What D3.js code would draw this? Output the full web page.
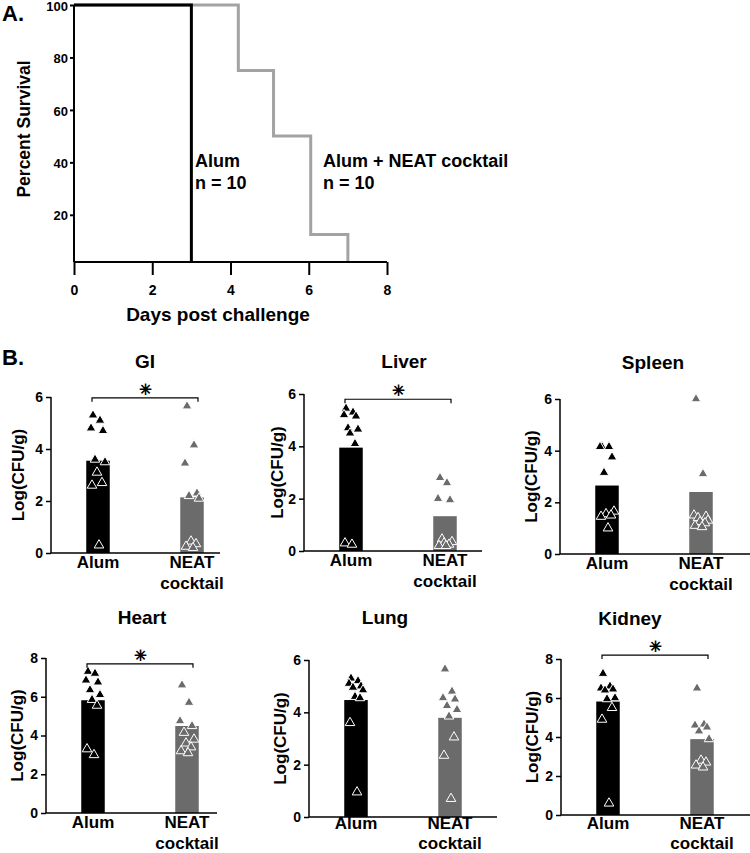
<!DOCTYPE html>
<html><head><meta charset="utf-8">
<script src="https://cdn.jsdelivr.net/npm/d3@7"></script>
<style>
body{margin:0;background:#fff;}
svg{display:block;font-family:"Liberation Sans",Arial,sans-serif;}
</style></head>
<body><svg id="c" width="750" height="853"></svg>
<script>
// ---------- Panel A data ----------
const survXTicks = [0, 2, 4, 6, 8];
const survYTicks = [20, 40, 60, 80, 100];
const alumDays = [0, 3];
const alumSurv = [100, 0];
const neatDays = [0, 4.2, 5.1, 6.05, 7];
const neatSurv = [100, 75, 50, 12.5, 0];

// ---------- Panel B data ----------
const organs = ["GI", "Liver", "Spleen", "Heart", "Lung", "Kidney"];
const groups = ["Alum", "NEAT cocktail"];
const yMax = [6, 6, 6, 8, 6, 8];
const alumBar = [3.55, 3.95, 2.65, 5.82, 4.47, 5.82];
const neatBar = [2.14, 1.33, 2.40, 4.49, 3.79, 3.89];
const significant = [true, true, false, true, false, true];
const alumPts = [
  [5.3, 5.1, 4.8, 4.7, 3.6, 3.5, 3.1, 2.7, 2.6, 0.3],
  [5.45, 5.3, 5.2, 5.15, 4.7, 4.65, 4.5, 4.1, 0.3, 0.25],
  [4.15, 4.15, 4.15, 3.75, 3.15, 1.65, 1.55, 1.5, 1.45, 1.0],
  [7.3, 7.2, 6.85, 6.75, 6.35, 6.1, 5.85, 5.55, 3.3, 3.0],
  [5.3, 5.2, 5.1, 5.0, 4.95, 4.85, 4.6, 4.55, 3.6, 0.95],
  [7.25, 6.6, 6.5, 6.45, 6.4, 6.0, 5.95, 5.5, 4.9, 0.6]
];
const neatPts = [
  [5.65, 4.15, 3.45, 2.3, 2.2, 2.1, 0.45, 0.35, 0.25, 0.2],
  [2.8, 2.6, 2.0, 1.95, 0.45, 0.35, 0.3, 0.25, 0.2, 0.2],
  [6.0, 3.1, 1.5, 1.45, 1.4, 1.3, 1.25, 1.2, 1.1, 1.05],
  [6.6, 5.7, 4.75, 4.5, 4.15, 3.8, 3.6, 3.4, 3.2, 3.1],
  [5.65, 4.8, 4.55, 4.5, 4.25, 4.1, 3.85, 3.05, 2.35, 0.7],
  [6.5, 4.65, 4.6, 4.5, 4.3, 3.9, 2.8, 2.7, 2.55, 2.45]
];

const svg = d3.select("#c");
const BOLD = "bold";

// ================= Panel A =================
const xA = d3.scaleLinear().domain([0, 8]).range([74, 387]);
const yA = d3.scaleLinear().domain([2, 100]).range([262, 5]).clamp(true);
const gA = svg.append("g");

const line = d3.line().x(d => xA(d[0])).y(d => yA(d[1])).curve(d3.curveStepAfter);
gA.append("path").datum(d3.zip(neatDays, neatSurv)).attr("d", line)
  .attr("fill", "none").attr("stroke", "#a3a3a3").attr("stroke-width", 3);
gA.append("path").datum(d3.zip(alumDays, alumSurv)).attr("d", line)
  .attr("fill", "none").attr("stroke", "#000").attr("stroke-width", 3);

const axAx = gA.append("g").attr("transform", "translate(0,262)")
  .call(d3.axisBottom(xA).tickValues(survXTicks).tickSize(13).tickPadding(10).tickFormat(d3.format("d")));
const axAy = gA.append("g").attr("transform", "translate(74,0)")
  .call(d3.axisLeft(yA).tickValues(survYTicks).tickSize(4).tickPadding(2).tickFormat(d3.format("d")));
[axAx, axAy].forEach(a => {
  a.select(".domain").attr("stroke", "#000").attr("stroke-width", 2);
  a.selectAll(".tick line").attr("stroke", "#000").attr("stroke-width", 2);
  a.selectAll("text").attr("font-size", 14).attr("font-weight", BOLD).attr("fill", "#000")
    .attr("font-family", "Liberation Sans, Arial, sans-serif");
});
axAy.selectAll("text").attr("font-size", 13).attr("dy", "0.4em");
axAy.select(".domain").attr("d", "M0,5V262");
axAx.select(".domain").attr("d", "M74,0H387");

gA.append("text").attr("x", 195).attr("y", 167).text("Alum").attr("font-size", 18).attr("font-weight", BOLD);
gA.append("text").attr("x", 195).attr("y", 189).text("n = 10").attr("font-size", 18).attr("font-weight", BOLD);
gA.append("text").attr("x", 323).attr("y", 167).text("Alum + NEAT cocktail").attr("font-size", 18).attr("font-weight", BOLD);
gA.append("text").attr("x", 323).attr("y", 189).text("n = 10").attr("font-size", 18).attr("font-weight", BOLD);
gA.append("text").attr("x", 218).attr("y", 321).attr("text-anchor", "middle")
  .text("Days post challenge").attr("font-size", 19).attr("font-weight", BOLD);
gA.append("text").attr("transform", "translate(30,129) rotate(-90)").attr("text-anchor", "middle")
  .text("Percent Survival").attr("font-size", 17.5).attr("font-weight", BOLD);
svg.append("text").attr("x", 2).attr("y", 21).text("A.").attr("font-size", 22).attr("font-weight", BOLD);
svg.append("text").attr("x", 2).attr("y", 365).text("B.").attr("font-size", 22).attr("font-weight", BOLD);

// ================= Panel B =================
// layout per panel: axis x, zero y, top y, x-axis end, title pos, bracket level
const layout = [
  {ax: 51,  y0: 553, yt: 397, xe: 220, tx: 145, ty: 368, br: 5.97, ytx: -33},
  {ax: 304, y0: 551, yt: 394, xe: 482, tx: 404, ty: 368, br: 5.8,  ytx: -27},
  {ax: 560, y0: 554, yt: 399, xe: 750, tx: 653, ty: 369, br: 0,    ytx: -29},
  {ax: 46,  y0: 813, yt: 658, xe: 217, tx: 142, ty: 624, br: 7.7,  ytx: -29},
  {ax: 309, y0: 817, yt: 660, xe: 497, tx: 385, ty: 624, br: 0,    ytx: -29},
  {ax: 561, y0: 815, yt: 659, xe: 750, tx: 630, ty: 625, br: 8.2,  ytx: -29}
];
const jit = [-5, 2, -7, 5, -3, 7, -1, 4, -6, 1];
const tri = d3.symbol().type(d3.symbolTriangle).size(40);
const barColors = ["#000000", "#6b6b6b"];

organs.forEach((org, i) => {
  const L = layout[i];
  const g = svg.append("g");
  const y = d3.scaleLinear().domain([0, yMax[i]]).range([L.y0, L.yt]);
  const x = d3.scalePoint().domain(groups).range([L.ax + 47, L.ax + 141]);
  const bw = 23.5;
  const bars = [alumBar[i], neatBar[i]];
  const pts = [alumPts[i], neatPts[i]];

  groups.forEach((grp, k) => {
    g.append("rect").attr("x", x(grp) - bw / 2).attr("width", bw)
      .attr("y", y(bars[k])).attr("height", y(0) - y(bars[k]))
      .attr("fill", barColors[k]);
  });
  groups.forEach((grp, k) => {
    g.selectAll(null).data(pts[k]).enter().append("path")
      .attr("d", tri)
      .attr("transform", (d, j) => `translate(${x(grp) + jit[j]},${y(d)})`)
      .attr("fill", barColors[k]).attr("stroke", "#fff").attr("stroke-width", 1);
  });

  const ya = g.append("g").attr("transform", `translate(${L.ax},0)`)
    .call(d3.axisLeft(y).ticks(yMax[i] / 2).tickSize(5).tickPadding(3).tickFormat(d3.format("d")));
  ya.select(".domain").attr("d", `M0,${L.yt}V${L.y0}`).attr("stroke", "#000").attr("stroke-width", 1.5);
  ya.selectAll(".tick line").attr("stroke", "#000").attr("stroke-width", 1.5);
  ya.selectAll("text").attr("font-size", 14).attr("font-weight", BOLD).attr("fill", "#000")
    .attr("font-family", "Liberation Sans, Arial, sans-serif");
  g.append("line").attr("x1", L.ax).attr("x2", L.xe).attr("y1", L.y0).attr("y2", L.y0)
    .attr("stroke", "#000").attr("stroke-width", 1.5);

  // category labels
  const yl1 = Math.min(L.y0 + 15, 828.5), yl2 = Math.min(L.y0 + 36, 848.5);
  g.append("text").attr("x", x("Alum")).attr("y", yl1).attr("text-anchor", "middle")
    .text("Alum").attr("font-size", 17).attr("font-weight", BOLD);
  const nt = g.append("text").attr("text-anchor", "middle").attr("font-size", 17).attr("font-weight", BOLD);
  nt.append("tspan").attr("x", x("NEAT cocktail")).attr("y", yl1).text("NEAT");
  nt.append("tspan").attr("x", x("NEAT cocktail")).attr("y", yl2).text("cocktail");

  g.append("text").attr("text-anchor", "middle")
    .attr("transform", `translate(${L.ax + L.ytx},${(L.y0 + L.yt) / 2}) rotate(-90)`)
    .attr("dy", "0.35em")
    .text("Log(CFU/g)").attr("font-size", 17).attr("font-weight", BOLD);

  g.append("text").attr("x", L.tx).attr("y", L.ty).attr("text-anchor", "middle")
    .text(org).attr("font-size", 19).attr("font-weight", BOLD);

  if (significant[i]) {
    const by = y(L.br);
    const x1 = x("Alum") - 6, x2 = x("NEAT cocktail") + 6;
    g.append("path").attr("d", `M${x1},${by + 4}V${by}H${x2}V${by + 4}`)
      .attr("fill", "none").attr("stroke", "#000").attr("stroke-width", 1.2);
    g.append("text").attr("x", (x1 + x2) / 2).attr("y", by - 3).attr("text-anchor", "middle")
      .attr("font-family", "Liberation Sans").attr("font-size", 23).attr("fill", "#000")
      .text("\u2055");
  }
});
</script></body></html>
